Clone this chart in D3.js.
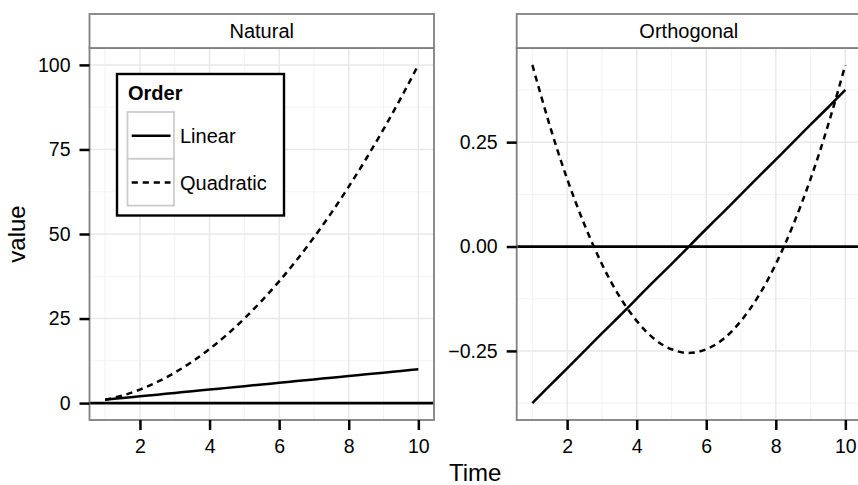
<!DOCTYPE html>
<html>
<head>
<meta charset="utf-8">
<script src="https://cdn.jsdelivr.net/npm/d3@7"></script>
<style>
  html, body { margin: 0; padding: 0; background: #fff; }
  svg { display: block; font-family: "Liberation Sans", Arial, Helvetica, sans-serif; }
</style>
</head>
<body>
<svg id="chart" width="858" height="485"></svg>
<script>
// Polynomial contrasts over time, drawn two ways
const panels = ["Natural", "Orthogonal"];
const orders = ["Linear", "Quadratic"];
const time = [1, 1.5, 2, 2.5, 3, 3.5, 4, 4.5, 5, 5.5, 6, 6.5, 7, 7.5, 8, 8.5, 9, 9.5, 10];

const naturalLinear = [1, 1.5, 2, 2.5, 3, 3.5, 4, 4.5, 5, 5.5, 6, 6.5, 7, 7.5, 8, 8.5, 9, 9.5, 10];
const naturalQuadratic = [1, 2.25, 4, 6.25, 9, 12.25, 16, 20.25, 25, 30.25, 36, 42.25, 49, 56.25, 64, 72.25, 81, 90.25, 100];
const orthogonalLinear = [-0.375, -0.333, -0.292, -0.25, -0.208, -0.167, -0.125, -0.083, -0.042, 0,
                          0.042, 0.083, 0.125, 0.167, 0.208, 0.25, 0.292, 0.333, 0.375];
const orthogonalQuadratic = [0.435, 0.29, 0.162, 0.052, -0.042, -0.119, -0.178, -0.221, -0.246, -0.255,
                             -0.246, -0.221, -0.178, -0.119, -0.042, 0.052, 0.162, 0.29, 0.435];

const xTicks = [2, 4, 6, 8, 10];
const xMinor = [1, 3, 5, 7, 9];
const naturalTicks = [0, 25, 50, 75, 100];
const naturalMinor = [12.5, 37.5, 62.5, 87.5];
const orthogonalTicks = [-0.25, 0, 0.25];
const orthogonalMinor = [-0.375, -0.125, 0.125, 0.375];

const svg = d3.select("#chart");
const stripTop = 14, panelTop = 48, panelBottom = 420;
const panelX = [[89.5, 434], [516.7, 861]];

function expand(lo, hi) { const d = (hi - lo) * 0.05; return [lo - d, hi + d]; }

const specs = [
  { name: panels[0], series: [naturalLinear, naturalQuadratic], ticks: naturalTicks, minor: naturalMinor,
    ydom: expand(0, 100), fmt: d3.format("d") },
  { name: panels[1], series: [orthogonalLinear, orthogonalQuadratic], ticks: orthogonalTicks, minor: orthogonalMinor,
    ydom: expand(d3.min(orthogonalLinear), d3.max(orthogonalQuadratic)), fmt: d3.format(".2f") }
];

const dashes = [null, "6.2,4.8"];
const lineW = 2.5;
const fontStack = "\"Liberation Sans\", Arial, Helvetica, sans-serif";

specs.forEach((s, i) => {
  const [x0, x1] = panelX[i];
  const x = d3.scaleLinear().domain(expand(1, 10)).range([x0, x1]);
  const y = d3.scaleLinear().domain(s.ydom).range([panelBottom, panelTop]);
  const g = svg.append("g");

  g.append("rect").attr("x", x0).attr("y", panelTop).attr("width", x1 - x0)
    .attr("height", panelBottom - panelTop).attr("fill", "#fff");

  // minor grid
  g.selectAll(".vminor").data(xMinor).join("line")
    .attr("x1", d => x(d)).attr("x2", d => x(d)).attr("y1", panelTop).attr("y2", panelBottom)
    .attr("stroke", "#f3f3f3").attr("stroke-width", 1.1);
  g.selectAll(".hminor").data(s.minor).join("line")
    .attr("x1", x0).attr("x2", x1).attr("y1", d => y(d)).attr("y2", d => y(d))
    .attr("stroke", "#f3f3f3").attr("stroke-width", 1.1);
  // major grid
  g.selectAll(".vmajor").data(xTicks).join("line")
    .attr("x1", d => x(d)).attr("x2", d => x(d)).attr("y1", panelTop).attr("y2", panelBottom)
    .attr("stroke", "#e8e8e8").attr("stroke-width", 1.5);
  g.selectAll(".hmajor").data(s.ticks).join("line")
    .attr("x1", x0).attr("x2", x1).attr("y1", d => y(d)).attr("y2", d => y(d))
    .attr("stroke", "#e8e8e8").attr("stroke-width", 1.5);

  // reference line at zero
  g.append("line").attr("x1", x0).attr("x2", x1).attr("y1", y(0)).attr("y2", y(0))
    .attr("stroke", "#000").attr("stroke-width", 2.7);

  const line = d3.line().x((d, k) => x(time[k])).y(d => y(d)).curve(d3.curveNatural);
  s.series.forEach((vals, k) => {
    g.append("path").attr("d", line(vals)).attr("fill", "none")
      .attr("stroke", "#000").attr("stroke-width", lineW)
      .attr("stroke-dasharray", dashes[k]);
  });

  // panel border
  g.append("rect").attr("x", x0).attr("y", panelTop).attr("width", x1 - x0)
    .attr("height", panelBottom - panelTop).attr("fill", "none")
    .attr("stroke", "#808080").attr("stroke-width", 1.8);

  // strip
  g.append("rect").attr("x", x0).attr("y", stripTop).attr("width", x1 - x0)
    .attr("height", panelTop - stripTop).attr("fill", "#fff")
    .attr("stroke", "#808080").attr("stroke-width", 1.8);
  g.append("text").attr("x", (x0 + x1) / 2).attr("y", 37.5).attr("text-anchor", "middle")
    .attr("font-size", 20).attr("fill", "#000").text(s.name);

  // axes
  const ax = g.append("g").attr("transform", `translate(0,${panelBottom})`)
    .call(d3.axisBottom(x).tickValues(xTicks).tickSize(10).tickPadding(9).tickFormat(d3.format("d")));
  const ay = g.append("g").attr("transform", `translate(${x0},0)`)
    .call(d3.axisLeft(y).tickValues(s.ticks).tickSize(10).tickPadding(9).tickFormat(s.fmt));
  [ax, ay].forEach(a => {
    a.select(".domain").remove();
    a.selectAll(".tick line").attr("stroke", "#000").attr("stroke-width", 2.5);
    a.selectAll(".tick text").attr("font-size", 19.5).attr("fill", "#000")
      .attr("font-family", fontStack);
  });
});

// axis titles
svg.append("text").attr("x", (panelX[0][0] + panelX[1][1]) / 2).attr("y", 481)
  .attr("text-anchor", "middle").attr("font-size", 24).attr("fill", "#000").text("Time");
svg.append("text").attr("transform", `translate(25,${(panelTop + panelBottom) / 2}) rotate(-90)`)
  .attr("text-anchor", "middle").attr("font-size", 24).attr("fill", "#000").text("value");

// legend
const lg = svg.append("g");
lg.append("rect").attr("x", 117).attr("y", 74).attr("width", 167).attr("height", 141.5)
  .attr("fill", "#fff").attr("stroke", "#000").attr("stroke-width", 2.4);
lg.append("text").attr("x", 128).attr("y", 100).attr("font-size", 20).attr("font-weight", "bold")
  .attr("fill", "#000").text("Order");
orders.forEach((o, k) => {
  const ky = 112 + k * 46.8;
  lg.append("rect").attr("x", 127.5).attr("y", ky).attr("width", 46.5).attr("height", 46.8)
    .attr("fill", "#fff").attr("stroke", "#cccccc").attr("stroke-width", 1.8);
  lg.append("line").attr("x1", 131.7).attr("x2", 170.5).attr("y1", ky + 23.8).attr("y2", ky + 23.8)
    .attr("stroke", "#000").attr("stroke-width", lineW).attr("stroke-dasharray", dashes[k]);
  lg.append("text").attr("x", 180).attr("y", ky + 31).attr("font-size", 20).attr("fill", "#000").text(o);
});
</script>
</body>
</html>
